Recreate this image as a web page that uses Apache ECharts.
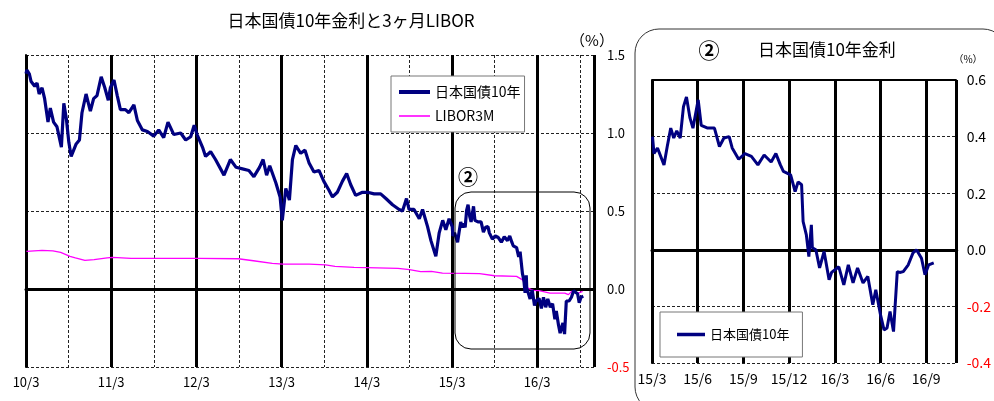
<!DOCTYPE html>
<html><head><meta charset="utf-8">
<script src="https://cdn.jsdelivr.net/npm/echarts@6/dist/echarts.min.js"></script>
<style>html,body{margin:0;padding:0;background:#fff}#c{width:994px;height:401px}</style>
</head><body><div id="c"></div>
<script>
// ---- data ----
const leftTickLabels = ['10/3','11/3','12/3','13/3','14/3','15/3','16/3'];
const rightTickLabels = ['15/3','15/6','15/9','15/12','16/3','16/6','16/9'];
const leftYLabels = ['-0.5','0.0','0.5','1.0','1.5'];
const rightYLabels = ['-0.4','-0.2','0.0','0.2','0.4','0.6'];

const jgbDates = [
'2010-03-01','2010-03-05','2010-03-15','2010-03-23','2010-04-08','2010-04-18','2010-04-27','2010-05-09','2010-05-20','2010-06-04',
'2010-06-14','2010-06-28','2010-07-12','2010-07-31','2010-08-11','2010-08-22','2010-09-02','2010-09-12','2010-10-03','2010-10-17',
'2010-10-28','2010-11-15','2010-11-23','2010-12-03','2010-12-17','2011-01-01','2011-01-19','2011-02-04','2011-02-19','2011-02-28',
'2011-03-13','2011-03-27','2011-04-10','2011-05-01','2011-05-16','2011-06-07','2011-06-22','2011-07-13','2011-08-04','2011-09-01',
'2011-09-22','2011-10-13','2011-11-01','2011-11-26','2011-12-25','2012-01-16','2012-02-07','2012-02-22','2012-03-04','2012-03-27',
'2012-04-10','2012-05-01','2012-05-22','2012-06-28','2012-07-25','2012-08-19','2012-09-16','2012-10-13','2012-11-04','2012-11-28',
'2012-12-13','2012-12-28','2013-01-11','2013-02-07','2013-02-25','2013-03-04','2013-03-19','2013-04-04','2013-04-17','2013-05-01',
'2013-05-22','2013-06-10','2013-06-27','2013-07-18','2013-08-09','2013-08-30','2013-09-21','2013-10-06','2013-10-27','2013-11-18',
'2013-12-06','2013-12-23','2014-01-14','2014-02-13','2014-03-04','2014-04-02','2014-04-30','2014-05-22','2014-06-20','2014-07-18',
'2014-08-02','2014-08-19','2014-08-30','2014-09-21','2014-10-13','2014-10-27','2014-11-18','2014-12-02','2014-12-23','2015-01-07',
'2015-01-22','2015-02-05','2015-02-19',
'2015-03-02','2015-03-05','2015-03-12','2015-03-25','2015-04-01','2015-04-08','2015-04-14','2015-04-20','2015-04-27','2015-05-03',
'2015-05-09','2015-05-16','2015-05-22','2015-06-02','2015-06-08','2015-06-21','2015-07-04','2015-07-14','2015-07-23','2015-08-03',
'2015-08-09','2015-08-22','2015-09-04','2015-09-17','2015-09-30','2015-10-12','2015-10-26','2015-11-05','2015-11-14','2015-11-20',
'2015-12-04','2015-12-13','2015-12-19','2015-12-26','2015-12-29','2016-01-05','2016-01-10','2016-01-15','2016-01-17','2016-01-24',
'2016-02-01','2016-02-10','2016-02-20','2016-02-25','2016-03-09','2016-03-19','2016-03-28','2016-04-07','2016-04-16','2016-04-27',
'2016-05-06','2016-05-16','2016-05-22','2016-06-01','2016-06-08','2016-06-14','2016-06-20','2016-06-27','2016-07-04','2016-07-09',
'2016-07-16','2016-07-26','2016-08-05','2016-08-12','2016-08-22','2016-08-29','2016-09-06','2016-09-16'
];
const jgbValues = [
1.38,1.404,1.38,1.33,1.30,1.32,1.25,1.29,1.22,1.07,
1.16,1.07,1.04,0.91,1.19,1.09,0.94,0.85,0.93,0.955,
1.13,1.25,1.26,1.14,1.22,1.24,1.36,1.29,1.21,1.29,
1.34,1.24,1.15,1.15,1.13,1.18,1.08,1.02,1.01,0.98,
1.02,0.97,1.07,0.99,1.00,0.955,0.976,1.05,0.99,0.91,
0.85,0.88,0.83,0.73,0.83,0.78,0.77,0.76,0.72,0.78,
0.83,0.73,0.79,0.68,0.59,0.44,0.645,0.57,0.83,0.92,
0.87,0.89,0.81,0.75,0.76,0.69,0.635,0.59,0.62,0.69,
0.74,0.67,0.60,0.62,0.62,0.61,0.61,0.58,0.54,0.51,
0.50,0.58,0.51,0.51,0.45,0.51,0.40,0.31,0.21,0.36,
0.44,0.38,0.45,
0.40,0.34,0.36,0.30,0.365,0.43,0.395,0.42,0.395,0.506,
0.54,0.466,0.43,0.53,0.44,0.43,0.43,0.365,0.395,0.40,
0.36,0.32,0.34,0.33,0.30,0.335,0.31,0.34,0.30,0.277,
0.265,0.206,0.24,0.23,0.10,0.053,-0.024,0.088,0.007,0.0,
-0.064,-0.006,-0.106,-0.08,-0.06,-0.124,-0.053,-0.117,-0.064,-0.117,
-0.094,-0.194,-0.141,-0.23,-0.283,-0.276,-0.218,-0.289,-0.077,-0.08,
-0.077,-0.053,-0.011,0.0,-0.03,-0.088,-0.053,-0.046
];

const liborDates = [
'2010-03-03','2010-05-09','2010-06-25','2010-07-28','2010-09-07','2010-09-30','2010-11-10','2010-12-19','2011-02-14','2011-03-07',
'2011-05-25','2011-11-02','2012-03-07','2012-08-28','2012-11-02','2013-01-22','2013-03-07','2013-06-28','2013-09-07','2013-10-17',
'2014-01-07','2014-03-01','2014-07-13','2014-09-01','2014-10-19','2014-12-04','2015-01-21','2015-04-25','2015-06-28','2015-09-01',
'2015-12-04','2015-12-28','2016-01-22','2016-02-15','2016-03-09','2016-04-25','2016-06-28','2016-07-13','2016-07-28','2016-08-25',
'2016-09-13'
];
const liborValues = [
0.241,0.247,0.245,0.235,0.209,0.199,0.184,0.188,0.199,0.203,
0.196,0.196,0.196,0.194,0.181,0.164,0.160,0.160,0.154,0.145,
0.139,0.137,0.132,0.124,0.111,0.113,0.102,0.100,0.098,0.085,
0.081,0.060,0.006,-0.009,-0.011,-0.026,-0.026,-0.036,-0.015,-0.026,
-0.015
];

// ---- helpers ----
function monthsFrom(d, by, bm){
  const p = d.split('-').map(Number);
  return (p[0]-by)*12 + (p[1]-bm) + (p[2]-1)/30.5;
}
const jgbLeft = jgbDates.map((d,i)=>[monthsFrom(d,2010,3), jgbValues[i]]);
const liborLeft = liborDates.map((d,i)=>[monthsFrom(d,2010,3), liborValues[i]]);
const jgbRight = jgbDates.map((d,i)=>[monthsFrom(d,2015,3), jgbValues[i]]).filter(p=>p[0]>=0);

const FONT = '"Noto Sans CJK JP", "Noto Sans", sans-serif';
function yFmt(labels, min, step){
  return function(v){
    const idx = Math.round((v-min)/step);
    const s = labels[idx] !== undefined ? labels[idx] : '';
    return s.charAt(0)==='-' ? '{neg|'+s+'}' : s;
  };
}
const thickIcon = 'path://M0 0H31V4H0Z';
const thinIcon = 'path://M0 0H31V1.6H0Z';

const chart = echarts.init(document.getElementById('c'), null, {renderer:'canvas'});
const dashed = {show:true, lineStyle:{type:[3,2], color:'#222', width:1}};
chart.setOption({
  animation:false,
  textStyle:{fontFamily:FONT},
  grid:[
    {left:26, right:400, top:55, bottom:34},
    {left:652, right:27, top:80, bottom:38}
  ],
  legend:[
    {data:[{name:'日本国債10年', icon:thickIcon, itemStyle:{color:'#000080'}},
           {name:'LIBOR3M', icon:thinIcon, itemStyle:{color:'#ff00ff'}}],
     orient:'vertical', left:391, top:76, symbolKeepAspect:true,
     itemWidth:31, itemHeight:14, itemGap:10, padding:[9,4,9,8],
     borderColor:'#777', borderWidth:1, backgroundColor:'#fff',
     textStyle:{fontSize:14, color:'#000', fontFamily:FONT}},
    {data:[{name:'日本国債10年', icon:'path://M0 0H28V3.5H0Z', itemStyle:{color:'#000080'}}],
     orient:'vertical', left:660, top:312, symbolKeepAspect:true,
     itemWidth:28, itemHeight:14, padding:[16,13,16,17],
     borderColor:'#777', borderWidth:1, backgroundColor:'#fff',
     textStyle:{fontSize:13, color:'#000', fontFamily:FONT}}
  ],
  xAxis:[
    {gridIndex:0, type:'value', min:0, max:80, interval:6,
     axisLine:{lineStyle:{color:'#000', width:3}}, axisTick:{show:false},
     axisLabel:{color:'#000', fontSize:13, margin:9, fontFamily:FONT,
       formatter:v=> (v%12===0 && leftTickLabels[v/12]) ? leftTickLabels[v/12] : ''},
     splitLine:dashed},
    {gridIndex:0, type:'value', min:0, max:80, interval:12, position:'bottom',
     axisLine:{show:false}, axisTick:{show:false}, axisLabel:{show:false},
     splitLine:{show:true, lineStyle:{color:'#000', width:3}}},
    {gridIndex:1, type:'value', min:0, max:20, interval:3,
     axisLine:{lineStyle:{color:'#000', width:3}}, axisTick:{show:false},
     axisLabel:{color:'#000', fontSize:14, margin:9, fontFamily:FONT,
       formatter:v=> (v%3===0 && rightTickLabels[v/3]) ? rightTickLabels[v/3] : ''},
     splitLine:{show:true, lineStyle:{color:'#000', width:3}}}
  ],
  yAxis:[
    {gridIndex:0, type:'value', position:'right', min:-0.5, max:1.5, interval:0.5,
     axisLine:{show:true, lineStyle:{color:'#000', width:2}}, axisTick:{show:false},
     axisLabel:{color:'#000', fontSize:13, margin:13, fontFamily:FONT,
       formatter:yFmt(leftYLabels,-0.5,0.5), rich:{neg:{color:'#ff0000', fontSize:13, fontFamily:FONT}}},
     splitLine:dashed},
    {gridIndex:1, type:'value', position:'right', min:-0.4, max:0.6, interval:0.2,
     axisLine:{show:true, lineStyle:{color:'#000', width:2}}, axisTick:{show:false},
     axisLabel:{color:'#000', fontSize:14, margin:10, fontFamily:FONT,
       formatter:yFmt(rightYLabels,-0.4,0.2), rich:{neg:{color:'#ff0000', fontSize:14, fontFamily:FONT}}},
     splitLine:dashed}
  ],
  series:[
    {name:'LIBOR3M', type:'line', xAxisIndex:0, yAxisIndex:0, data:liborLeft,
     symbol:'none', lineStyle:{color:'#ff00ff', width:1.3}, itemStyle:{color:'#ff00ff'},
     markLine:{silent:true, symbol:'none', z:1, label:{show:false},
       lineStyle:{color:'#000', width:1.5, type:'solid'}, data:[{yAxis:0}]}},
    {name:'日本国債10年', type:'line', xAxisIndex:0, yAxisIndex:0, data:jgbLeft,
     symbol:'none', lineStyle:{color:'#000080', width:3.2}, itemStyle:{color:'#000080'}, z:3},
    {name:'日本国債10年', type:'line', xAxisIndex:2, yAxisIndex:1, data:jgbRight,
     symbol:'none', lineStyle:{color:'#000080', width:3}, itemStyle:{color:'#000080'}, z:3,
     markLine:{silent:true, symbol:'none', z:1, label:{show:false},
       lineStyle:{color:'#000', width:2, type:'solid'}, data:[{yAxis:0},{yAxis:0.6}]}}
  ],
  graphic:[
    {type:'text', x:351, y:21, style:{text:'日本国債10年金利と3ヶ月LIBOR', font:'17px '+FONT, fill:'#000', textAlign:'center', textVerticalAlign:'middle'}},
    {type:'text', x:592, y:40, style:{text:'（%）', font:'15px '+FONT, fill:'#000', textAlign:'center', textVerticalAlign:'middle'}},
    {type:'text', x:468, y:177, style:{text:'②', font:'bold 20px '+FONT, fill:'#000', textAlign:'center', textVerticalAlign:'middle'}},
    {type:'rect', shape:{x:455, y:192, width:135, height:157, r:16}, style:{fill:'none', stroke:'#000', lineWidth:1}, z:10},
    {type:'rect', shape:{x:635, y:29, width:372, height:382, r:24}, style:{fill:'none', stroke:'#333', lineWidth:1}, z:10},
    {type:'text', x:709, y:50, style:{text:'②', font:'bold 21px '+FONT, fill:'#000', textAlign:'center', textVerticalAlign:'middle'}},
    {type:'text', x:758, y:50, style:{text:'日本国債10年金利', font:'17px '+FONT, fill:'#000', textAlign:'left', textVerticalAlign:'middle'}},
    {type:'text', x:968, y:59, style:{text:'（%）', font:'10px '+FONT, fill:'#000', textAlign:'center', textVerticalAlign:'middle'}}
  ]
});
</script>
</body></html>
